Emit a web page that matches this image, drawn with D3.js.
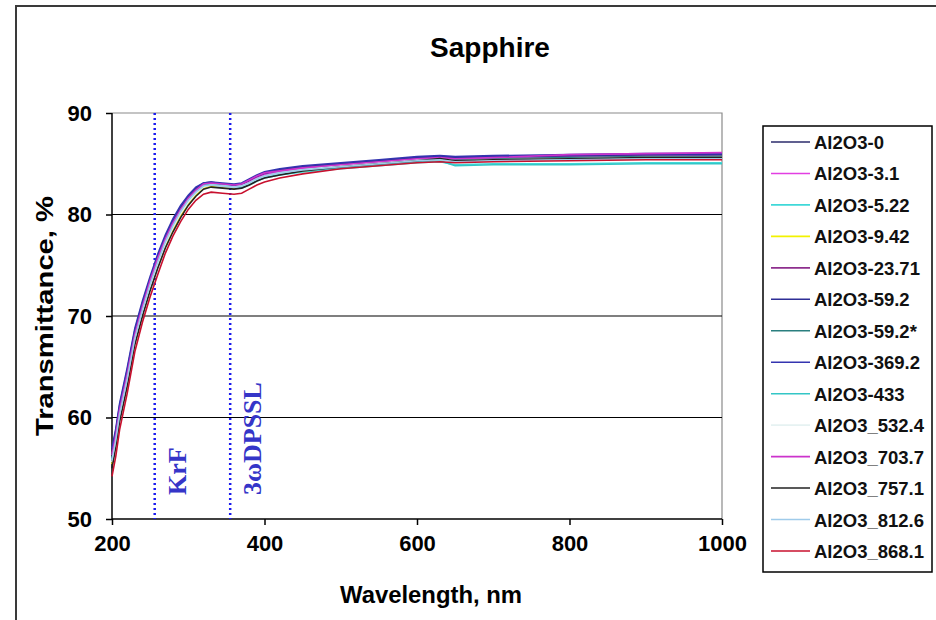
<!DOCTYPE html>
<html><head><meta charset="utf-8">
<script src="https://cdn.jsdelivr.net/npm/d3@7"></script>
<style>body{margin:0;background:#fff}svg{display:block}</style>
</head><body>
<svg id="c" width="936" height="620"></svg>
<script>
const wavelengths = [200,205,210,220,230,240,250,260,270,280,290,300,310,320,330,345,360,370,380,390,400,420,450,500,550,600,630,650,700,800,900,1000];
const seriesNames = ["Al2O3-0","Al2O3-3.1","Al2O3-5.22","Al2O3-9.42","Al2O3-23.71","Al2O3-59.2","Al2O3-59.2*","Al2O3-369.2","Al2O3-433","Al2O3_532.4","Al2O3_703.7","Al2O3_757.1","Al2O3_812.6","Al2O3_868.1"];
const seriesColors = ["#2b2b6b","#e23ee2","#3fd8d8","#f2f200","#8e2f8e","#2e2e96","#2a7f7f","#3434b0","#33c6c6","#e6f2f2","#cc33cc","#222222","#9fcbea","#c8102e"];
const s0  = [56.0,58.0,60.5,64.0,68.0,70.8,73.3,75.5,77.5,79.1,80.4,81.5,82.3,82.9,83.0,82.9,82.8,82.9,83.3,83.7,84.0,84.3,84.6,84.9,85.2,85.5,85.6,85.5,85.6,85.7,85.8,85.9];
const s1  = [55.8,57.8,60.2,63.7,67.7,70.5,73.0,75.2,77.2,78.8,80.2,81.3,82.2,82.8,83.0,82.9,82.8,82.9,83.2,83.6,83.9,84.2,84.5,84.9,85.2,85.5,85.6,85.4,85.6,85.7,85.8,85.9];
const s2  = [55.6,57.6,60.1,63.6,67.6,70.4,72.9,75.1,77.1,78.7,80.1,81.2,82.1,82.8,82.9,82.8,82.6,82.6,82.9,83.3,83.6,83.9,84.2,84.5,84.8,85.1,85.2,84.9,85.0,85.0,85.1,85.1];
const s3  = [55.4,57.4,59.9,63.4,67.4,70.2,72.7,74.9,76.9,78.5,79.9,81.0,81.9,82.6,82.8,82.7,82.6,82.7,83.0,83.4,83.7,84.0,84.3,84.7,85.0,85.3,85.4,85.3,85.4,85.5,85.6,85.7];
const s4  = [56.5,58.5,61.0,64.5,68.4,71.2,73.6,75.8,77.7,79.3,80.6,81.7,82.5,83.0,83.1,83.0,82.9,83.0,83.4,83.8,84.1,84.4,84.7,85.0,85.3,85.6,85.7,85.6,85.7,85.8,85.9,86.0];
const s5  = [56.8,58.7,61.2,64.7,68.6,71.3,73.7,75.9,77.8,79.4,80.7,81.8,82.6,83.1,83.2,83.0,82.9,83.0,83.4,83.8,84.1,84.4,84.7,85.0,85.3,85.6,85.7,85.6,85.7,85.8,85.9,85.9];
const s6  = [55.7,57.7,60.2,63.7,67.7,70.5,73.0,75.2,77.2,78.8,80.2,81.3,82.2,82.8,82.9,82.8,82.7,82.8,83.1,83.5,83.8,84.1,84.4,84.8,85.1,85.4,85.5,85.4,85.5,85.6,85.7,85.7];
const s7  = [57.0,58.9,61.4,64.9,68.8,71.5,73.9,76.1,78.0,79.6,80.9,81.9,82.7,83.1,83.2,83.1,83.0,83.1,83.5,83.9,84.2,84.5,84.8,85.1,85.4,85.7,85.8,85.7,85.8,85.9,86.0,86.0];
const s8  = [55.9,57.9,60.4,63.9,67.9,70.7,73.2,75.4,77.4,79.0,80.3,81.4,82.3,82.9,83.0,82.9,82.7,82.7,83.0,83.4,83.7,84.0,84.3,84.6,84.9,85.2,85.3,84.8,84.9,84.9,85.0,85.0];
const s9  = [55.6,57.6,60.1,63.6,67.6,70.4,72.9,75.1,77.1,78.7,80.1,81.2,82.1,82.7,82.9,82.8,82.7,82.8,83.1,83.5,83.8,84.1,84.4,84.8,85.1,85.4,85.5,85.3,85.4,85.5,85.6,85.6];
const s10 = [56.3,58.3,60.8,64.3,68.2,71.0,73.5,75.7,77.6,79.2,80.5,81.6,82.4,83.0,83.1,83.0,82.9,83.0,83.4,83.8,84.1,84.3,84.6,84.9,85.2,85.5,85.6,85.5,85.6,85.9,86.0,86.1];
const s11 = [55.0,57.1,59.6,63.1,67.2,70.0,72.5,74.7,76.7,78.3,79.7,80.9,81.8,82.5,82.7,82.6,82.5,82.6,82.9,83.3,83.6,83.9,84.3,84.7,85.0,85.3,85.5,85.3,85.4,85.5,85.6,85.6];
const s12 = [55.8,57.8,60.3,63.8,67.8,70.6,73.1,75.3,77.3,78.9,80.3,81.4,82.2,82.8,82.9,82.8,82.7,82.8,83.1,83.5,83.8,84.1,84.4,84.7,85.0,85.3,85.4,85.2,85.3,85.4,85.5,85.5];
const s13 = [54.2,56.2,58.8,62.4,66.5,69.4,71.9,74.1,76.2,77.9,79.3,80.5,81.4,82.0,82.2,82.1,82.0,82.1,82.5,82.9,83.2,83.6,84.0,84.5,84.8,85.1,85.2,85.1,85.2,85.3,85.4,85.4];
const seriesValues = [s0,s1,s2,s3,s4,s5,s6,s7,s8,s9,s10,s11,s12,s13];
const xTicks = [200,400,600,800,1000];
const yTicks = [50,60,70,80,90];
const markerLines = [{x:256,label:"KrF"},{x:355,label:"3ωDPSSL"}];

const svg = d3.select("#c");
const L=112,R=722,T=113,B=519;
const x = d3.scaleLinear().domain([200,1000]).range([L,R]);
const y = d3.scaleLinear().domain([50,90]).range([B,T]);
const font = "'Liberation Sans', Arial, sans-serif";

svg.append("rect").attr("x",16).attr("y",6).attr("width",940).attr("height",640)
  .attr("fill","none").attr("stroke","#3a3a3a").attr("stroke-width",2);

svg.append("path").attr("d",`M${L},${T}H${R}V${B}`).attr("fill","none").attr("stroke","#8a8a8a").attr("stroke-width",1.2);
svg.append("g").selectAll("line").data(yTicks.filter(v=>v>50&&v<90)).join("line")
  .attr("x1",L).attr("x2",R).attr("y1",d=>y(d)).attr("y2",d=>y(d))
  .attr("stroke","#000").attr("stroke-width",1.2);

const yAxis = svg.append("g").attr("transform",`translate(${L},0)`)
  .call(d3.axisLeft(y).tickValues(yTicks).tickSize(6).tickPadding(14).tickFormat(d3.format("d")));
const xAxis = svg.append("g").attr("transform",`translate(0,${B})`)
  .call(d3.axisBottom(x).tickValues(xTicks).tickSize(6).tickPadding(10).tickFormat(d3.format("d")));
[yAxis,xAxis].forEach(a=>{
  a.select(".domain").attr("stroke","#000").attr("stroke-width",1.5);
  a.selectAll(".tick line").attr("stroke","#000").attr("stroke-width",1.5);
  a.selectAll("text").attr("font-family",font).attr("font-weight","bold").attr("font-size",22).attr("fill","#000");
});
yAxis.select(".domain").attr("d",`M0,${T}V${B}`);
xAxis.select(".domain").attr("d",`M${L},0H${R}`);

svg.append("g").selectAll("line").data(markerLines).join("line")
  .attr("x1",d=>x(d.x)).attr("x2",d=>x(d.x)).attr("y1",T).attr("y2",B)
  .attr("stroke","#1a1aee").attr("stroke-width",2.5).attr("stroke-dasharray","2,3");
svg.append("g").selectAll("text").data(markerLines).join("text")
  .attr("transform",d=>`translate(${x(d.x)+31},495) rotate(-90)`)
  .attr("font-family","'Liberation Serif','Times New Roman',serif").attr("font-weight","bold")
  .attr("font-size",26).attr("fill","#3535c8").text(d=>d.label);

const line = d3.line().x((d,i)=>x(wavelengths[i])).y(d=>y(d));
svg.append("g").selectAll("path").data(seriesValues).join("path")
  .attr("d",d=>line(d)).attr("fill","none")
  .attr("stroke",(d,i)=>seriesColors[i]).attr("stroke-width",1.6);

svg.append("text").attr("x",490).attr("y",57).attr("text-anchor","middle")
  .attr("font-family",font).attr("font-weight","bold").attr("font-size",28).text("Sapphire");
svg.append("text").attr("x",431).attr("y",603).attr("text-anchor","middle")
  .attr("font-family",font).attr("font-weight","bold").attr("font-size",23)
  .attr("textLength",182).attr("lengthAdjust","spacingAndGlyphs").text("Wavelength, nm");
svg.append("text").attr("transform","translate(53,316) rotate(-90)").attr("text-anchor","middle")
  .attr("font-family",font).attr("font-weight","bold").attr("font-size",24)
  .attr("textLength",240).attr("lengthAdjust","spacingAndGlyphs").text("Transmittance, %");

const lg = svg.append("g");
lg.append("rect").attr("x",763).attr("y",126).attr("width",169).attr("height",446)
  .attr("fill","#fff").attr("stroke","#000").attr("stroke-width",1.5);
const rows = lg.selectAll("g.row").data(seriesNames).join("g")
  .attr("transform",(d,i)=>`translate(0,${142+i*31.46})`);
rows.append("line").attr("x1",771).attr("x2",810).attr("y1",0).attr("y2",0)
  .attr("stroke",(d,i)=>seriesColors[i]).attr("stroke-width",1.6);
rows.append("text").attr("x",814).attr("y",7).attr("font-family",font).attr("font-weight","bold")
  .attr("font-size",18.5).attr("fill","#111").text(d=>d);
</script>
</body></html>
